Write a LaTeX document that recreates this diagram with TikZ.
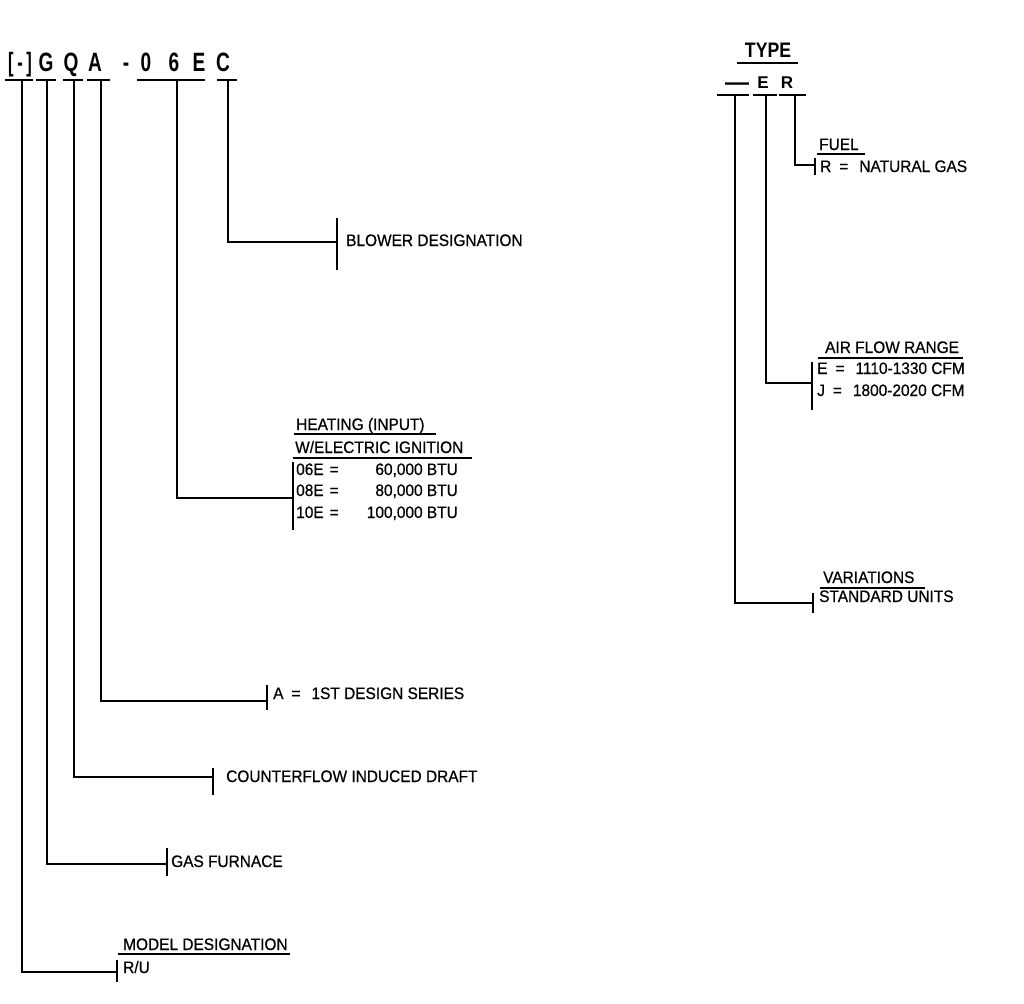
\documentclass[tikz,border=0pt]{standalone}
\usepackage{fontspec}
\setmainfont{Liberation Sans}[FakeStretch=0.93,FakeBold=0.6]
\newfontfamily\codefont{Liberation Sans}
\newcommand\eqsp{\hspace{8pt}=\hspace{11pt}}
\begin{document}
\begin{tikzpicture}[x=1pt,y=-1pt,
  lbl/.style={anchor=base west, inner sep=0pt, font=\fontsize{16.6}{19}\selectfont},
  lble/.style={anchor=base east, inner sep=0pt, font=\fontsize{16.6}{19}\selectfont},
  code/.style={anchor=base, inner sep=0pt, font=\codefont\fontsize{26.5}{30}\selectfont\bfseries},
  typec/.style={anchor=base, inner sep=0pt, font=\codefont\fontsize{17}{19}\selectfont\bfseries},
  uline/.style={line width=1.8pt},
  conn/.style={line width=1.5pt},
  tickl/.style={line width=1.2pt}]
\useasboundingbox (0,0) rectangle (1024,1003);

% ---------- left model code ----------
\node[code] (cbr) at (20,72) {\scalebox{0.62}[1]{[\hspace{6pt}-\hspace{6pt}]}};
\node[code] (cg) at (46,72) {\scalebox{0.72}[1]{G}};
\node[code] (cq) at (71,72) {\scalebox{0.72}[1]{Q}};
\node[code] (ca) at (95,72) {\scalebox{0.72}[1]{A}};
\node[code] (cd) at (126,72) {\scalebox{0.72}[1]{-}};
\node[code] (c0) at (146,72) {\scalebox{0.72}[1]{0}};
\node[code] (c6) at (174,72) {\scalebox{0.72}[1]{6}};
\node[code] (ce) at (199,72) {\scalebox{0.72}[1]{E}};
\node[code] (cc) at (223,72) {\scalebox{0.72}[1]{C}};

% underlines
\draw[uline] (5,80) -- (33,80);
\draw[uline] (36,80) -- (56,80);
\draw[uline] (63,80) -- (83,80);
\draw[uline] (87,80) -- (110,80);
\draw[uline] (137,80) -- (205,80);
\draw[uline] (217,80) -- (237,80);

% connector tops
\coordinate (ubr) at (22,80);
\coordinate (ug) at (47,80);
\coordinate (uq) at (74,80);
\coordinate (ua) at (101,80);
\coordinate (u06) at (177,80);
\coordinate (uc) at (228,80);

% ticks
\coordinate (tc) at (337,242);
\draw[tickl] (337,218) -- (337,270);
\coordinate (t06) at (293,498);
\draw[tickl] (293,462) -- (293,530);
\coordinate (ta) at (267,701);
\draw[tickl] (267,685) -- (267,710);
\coordinate (tq) at (213,777);
\draw[tickl] (213,768) -- (213,795);
\coordinate (tg) at (167,864);
\draw[tickl] (167,848) -- (167,876);
\coordinate (tbr) at (117,972);
\draw[tickl] (117,960) -- (117,982);

% connectors
\draw[conn] (uc) |- (tc);
\draw[conn] (u06) |- (t06);
\draw[conn] (ua) |- (ta);
\draw[conn] (uq) |- (tq);
\draw[conn] (ug) |- (tg);
\draw[conn] (ubr) |- (tbr);

% labels
\node[lbl] (lblower) at (346,246) {BLOWER DESIGNATION};
\node[lbl] (lheat1) at (296,430) {HEATING (INPUT)};
\draw[uline] (294,434) -- (436,434);
\node[lbl] (lheat2) at (295,453) {W/ELECTRIC IGNITION};
\draw[uline] (293,458) -- (472,458);
\node[lbl] (l06a) at (296,475) {06E\hspace{6pt}=};
\node[lble] (l06b) at (458,475) {60,000 BTU};
\node[lbl] (l08a) at (296,496) {08E\hspace{6pt}=};
\node[lble] (l08b) at (458,496) {80,000 BTU};
\node[lbl] (l10a) at (296,518) {10E\hspace{6pt}=};
\node[lble] (l10b) at (458,518) {100,000 BTU};
\node[lbl] (la) at (273,699) {A\eqsp 1ST DESIGN SERIES};
\node[lbl] (lq) at (226,782) {COUNTERFLOW INDUCED DRAFT};
\node[lbl] (lg) at (171,867) {GAS FURNACE};
\node[lbl] (lmod) at (123,950) {MODEL DESIGNATION};
\draw[uline] (118,954) -- (290,954);
\node[lbl] (lru) at (123,973) {R/U};

% ---------- right type code ----------
\node[anchor=base, inner sep=0pt, font=\codefont\fontsize{21}{24}\selectfont\bfseries] (ttype) at (768,58) {\scalebox{0.84}[1]{TYPE}};
\draw[uline] (737,63) -- (798,63);
\node[anchor=base, inner sep=0pt, font=\codefont\fontsize{24}{26}\selectfont\bfseries] (tdash) at (737,91) {—};
\node[typec] (te) at (763,89) {E};
\node[typec] (tr) at (787,89) {R};
\draw[uline] (717,95) -- (749,95);
\draw[uline] (753,95) -- (777,95);
\draw[uline] (779,95) -- (806,95);

\coordinate (udash) at (735,95);
\coordinate (ue) at (766,95);
\coordinate (ur) at (795,95);

\coordinate (trr) at (815,165);
\draw[tickl] (815,158) -- (815,175);
\coordinate (tee) at (812,383);
\draw[tickl] (812,362) -- (812,410);
\coordinate (tvar) at (813,603);
\draw[tickl] (813,593) -- (813,613);

\draw[conn] (ur) |- (trr);
\draw[conn] (ue) |- (tee);
\draw[conn] (udash) |- (tvar);

\node[lbl] (lfuel) at (819,150) {FUEL};
\draw[uline] (817,154) -- (865,154);
\node[lbl] (lgas) at (820,172) {R\eqsp NATURAL GAS};
\node[lbl] (lair) at (825,353) {AIR FLOW RANGE};
\draw[uline] (818,358) -- (963,358);
\node[lbl] (le) at (817,374) {E\eqsp 1110-1330 CFM};
\node[lbl] (lj) at (817,396) {J\eqsp 1800-2020 CFM};
\node[lbl] (lvar) at (823,583) {VARIATIONS};
\draw[uline] (820,588) -- (925,588);
\node[lbl] (lstd) at (819,602) {STANDARD UNITS};
\end{tikzpicture}
\end{document}
